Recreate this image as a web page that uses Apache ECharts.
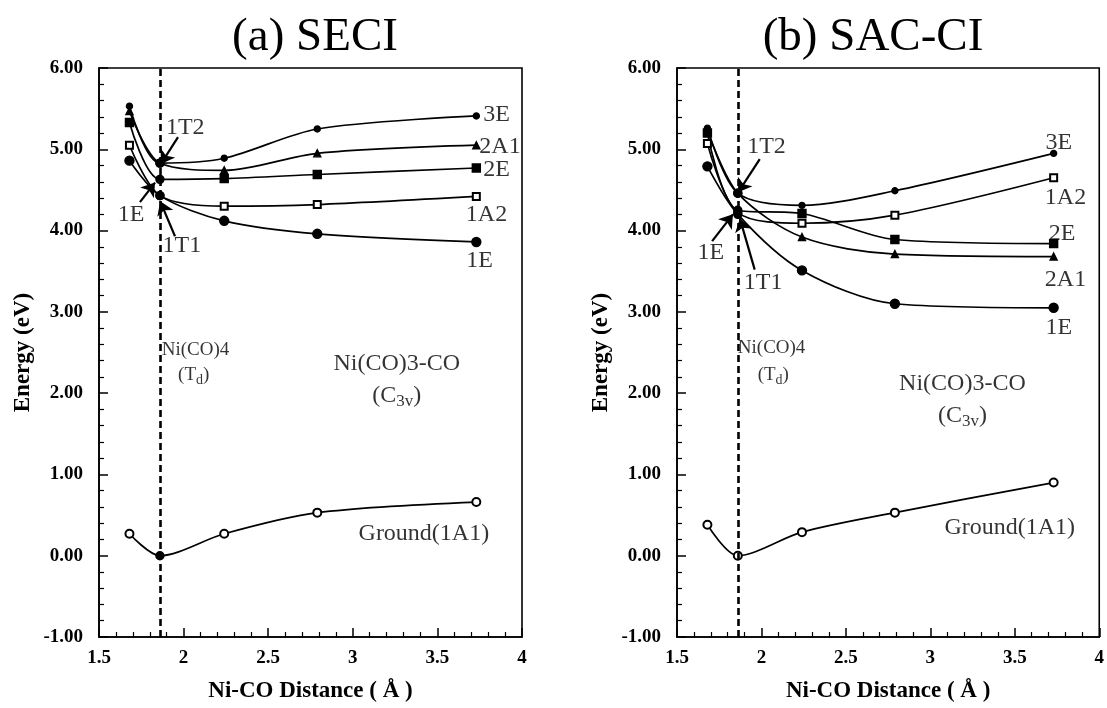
<!DOCTYPE html>
<html>
<head>
<meta charset="utf-8">
<script src="https://cdn.jsdelivr.net/npm/echarts@6/dist/echarts.min.js"></script>
<style>
  html, body { margin: 0; padding: 0; background: #fff; }
  #chart { width: 1107px; height: 708px; }
</style>
</head>
<body>
<div id="chart"></div>
<script>
// Ni-CO distance (Å) of the computed points, and the Td equilibrium (dashed line)
const distances = [1.68, 1.86, 2.24, 2.79, 3.73];
const tdDistance = 1.86;

// (a) SECI energies (eV)
const seciGround = [0.27, 0.00, 0.27, 0.53, 0.66];
const seci3E     = [5.53, 4.83, 4.89, 5.25, 5.41];
const seci2A1    = [5.47, 4.83, 4.74, 4.95, 5.05];
const seci2E     = [5.33, 4.63, 4.64, 4.69, 4.77];
const seci1A2    = [5.05, 4.43, 4.30, 4.32, 4.42];
const seci1E     = [4.86, 4.43, 4.12, 3.96, 3.86];

// (b) SAC-CI energies (eV)
const sacGround = [0.38, 0.00, 0.29, 0.53, 0.90];
const sac3E     = [5.26, 4.46, 4.31, 4.49, 4.95];
const sac2A1    = [5.23, 4.46, 3.92, 3.71, 3.68];
const sac2E     = [5.20, 4.25, 4.21, 3.89, 3.84];
const sac1A2    = [5.07, 4.22, 4.09, 4.19, 4.65];
const sac1E     = [4.79, 4.20, 3.51, 3.10, 3.05];

const serif = 'Liberation Serif';
const chart = echarts.init(document.getElementById('chart'));

// marker used for each state (point at the Td geometry is always a dot)
const markers = {
  '3E':  { symbol: 'circle', size: 6 },
  '2A1': { symbol: 'triangle', size: 7 },
  '2E':  { symbol: 'rect', size: 8 },
  '1A2': { symbol: 'emptyRect', size: 7 },
  '1E':  { symbol: 'circle', size: 9 },
  'G':   { symbol: 'emptyCircle', size: 8 }
};

function stateLine(gi, key, values, tdMark) {
  const m = markers[key];
  return {
    type: 'line',
    name: key,
    xAxisIndex: gi,
    yAxisIndex: gi,
    smooth: 0.3,
    showAllSymbol: true,
    data: distances.map((x, i) => {
      const onTd = i === 1 && tdMark;
      return {
        value: [x, values[i]],
        symbol: onTd ? 'circle' : m.symbol,
        symbolSize: onTd ? 8 : m.size
      };
    }),
    lineStyle: { color: '#000', width: 1.7 },
    itemStyle: { color: '#000', borderColor: '#000', borderWidth: 1.4 },
    z: 3
  };
}

const rich = {
  m: { fontFamily: serif, fontSize: 24, color: '#000', lineHeight: 30 },
  sm: { fontFamily: serif, fontSize: 19, color: '#000', lineHeight: 24 },
  s: { fontFamily: serif, fontSize: 17, color: '#000', lineHeight: 30, padding: [12, 0, 0, 0] },
  ss: { fontFamily: serif, fontSize: 14, color: '#000', lineHeight: 24, padding: [10, 0, 0, 0] }
};

// text notes: [x, y, rich text]; arrows: [x1, y1, x2, y2]
function notes(gi, items, arrows) {
  return {
    type: 'scatter',
    xAxisIndex: gi,
    yAxisIndex: gi,
    symbolSize: 0,
    silent: true,
    z: 5,
    data: items.map(([x, y, t]) => ({ value: [x, y], label: { formatter: t } })),
    label: { show: true, position: 'inside', color: '#000', rich: rich },
    markLine: {
      silent: true,
      symbol: ['none', 'arrow'],
      symbolSize: 13,
      label: { show: false },
      lineStyle: { type: 'solid', color: '#000', width: 2.2 },
      itemStyle: { color: '#000' },
      data: arrows.map(([x1, y1, x2, y2]) => [{ coord: [x1, y1] }, { coord: [x2, y2] }])
    }
  };
}

function tdLine(gi) {
  return {
    type: 'line',
    xAxisIndex: gi,
    yAxisIndex: gi,
    data: [],
    markLine: {
      silent: true,
      symbol: ['none', 'none'],
      label: { show: false },
      lineStyle: { type: [7, 4], color: '#000', width: 2.6 },
      data: [{ xAxis: tdDistance }]
    }
  };
}

function xAxisOf(gi) {
  return {
    gridIndex: gi, type: 'value', min: 1.5, max: 4, interval: 0.5,
    axisLine: { show: true, onZero: false, lineStyle: { color: '#000', width: 1.6 } },
    axisTick: { inside: true, length: 9, lineStyle: { color: '#000', width: 1.5 } },
    minorTick: { show: true, splitNumber: 5, length: 5, lineStyle: { color: '#000', width: 1.2 } },
    splitLine: { show: false },
    axisLabel: { color: '#000', fontFamily: serif, fontWeight: 'bold', fontSize: 19, margin: 12,
                 formatter: v => String(v) },
    name: 'Ni-CO Distance ( Å )', nameLocation: 'middle', nameGap: 43,
    nameTextStyle: { color: '#000', fontFamily: serif, fontWeight: 'bold', fontSize: 23 }
  };
}

function yAxisOf(gi) {
  return {
    gridIndex: gi, type: 'value', min: -1, max: 6, interval: 1,
    axisLine: { show: true, onZero: false, lineStyle: { color: '#000', width: 1.6 } },
    axisTick: { inside: true, length: 9, lineStyle: { color: '#000', width: 1.5 } },
    minorTick: { show: true, splitNumber: 5, length: 5, lineStyle: { color: '#000', width: 1.2 } },
    splitLine: { show: false },
    axisLabel: { color: '#000', fontFamily: serif, fontWeight: 'bold', fontSize: 19, margin: 16,
                 formatter: v => v.toFixed(2) },
    name: 'Energy (eV)', nameLocation: 'middle', nameGap: 64, nameRotate: 90,
    nameTextStyle: { color: '#000', fontFamily: serif, fontWeight: 'bold', fontSize: 23 }
  };
}

chart.setOption({
  animation: false,
  backgroundColor: '#fff',
  title: [
    { text: '(a) SECI', left: 310, top: 9, textAlign: 'center',
      textStyle: { fontFamily: serif, fontWeight: 'normal', fontSize: 47, color: '#000' } },
    { text: '(b) SAC-CI', left: 868, top: 9, textAlign: 'center',
      textStyle: { fontFamily: serif, fontWeight: 'normal', fontSize: 47, color: '#000' } }
  ],
  grid: [
    { left: 99, top: 68, width: 423, height: 574, show: true, borderColor: '#000', borderWidth: 1.6 },
    { left: 677, top: 68, width: 424, height: 575, show: true, borderColor: '#000', borderWidth: 1.6 }
  ],
  xAxis: [xAxisOf(0), xAxisOf(1)],
  yAxis: [yAxisOf(0), yAxisOf(1)],
  series: [
    tdLine(0),
    stateLine(0, 'G', seciGround, true),
    stateLine(0, '3E', seci3E, true),
    stateLine(0, '2A1', seci2A1, true),
    stateLine(0, '2E', seci2E, true),
    stateLine(0, '1A2', seci1A2, true),
    stateLine(0, '1E', seci1E, true),
    notes(0, [
      [2.01, 5.27, '{m|1T2}'],
      [1.69, 4.19, '{m|1E}'],
      [1.99, 3.81, '{m|1T1}'],
      [3.85, 5.42, '{m|3E}'],
      [3.87, 5.03, '{m|2A1}'],
      [3.85, 4.75, '{m|2E}'],
      [3.79, 4.20, '{m|1A2}'],
      [3.75, 3.63, '{m|1E}'],
      [2.07, 2.53, '{sm|Ni(CO)4}'],
      [2.06, 2.22, '{sm|(T}{ss|d}{sm|)}'],
      [3.26, 2.36, '{m|Ni(CO)3-CO}'],
      [3.26, 1.97, '{m|(C}{s|3v}{m|)}'],
      [3.42, 0.27, '{m|Ground(1A1)}']
    ], [
      [1.967, 5.15, 1.866, 4.82],
      [1.742, 4.35, 1.831, 4.59],
      [1.949, 3.93, 1.862, 4.36]
    ]),
    tdLine(1),
    stateLine(1, 'G', sacGround, false),
    stateLine(1, '3E', sac3E, true),
    stateLine(1, '2A1', sac2A1, true),
    stateLine(1, '2E', sac2E, true),
    stateLine(1, '1A2', sac1A2, true),
    stateLine(1, '1E', sac1E, true),
    notes(1, [
      [2.03, 5.03, '{m|1T2}'],
      [1.70, 3.73, '{m|1E}'],
      [2.01, 3.36, '{m|1T1}'],
      [3.76, 5.08, '{m|3E}'],
      [3.80, 4.41, '{m|1A2}'],
      [3.78, 3.96, '{m|2E}'],
      [3.80, 3.40, '{m|2A1}'],
      [3.76, 2.81, '{m|1E}'],
      [2.06, 2.55, '{sm|Ni(CO)4}'],
      [2.07, 2.22, '{sm|(T}{ss|d}{sm|)}'],
      [3.19, 2.11, '{m|Ni(CO)3-CO}'],
      [3.19, 1.72, '{m|(C}{s|3v}{m|)}'],
      [3.47, 0.34, '{m|Ground(1A1)}']
    ], [
      [1.99, 4.88, 1.862, 4.47],
      [1.708, 3.87, 1.831, 4.20],
      [1.96, 3.52, 1.872, 4.15]
    ])
  ]
});
</script>
</body>
</html>
